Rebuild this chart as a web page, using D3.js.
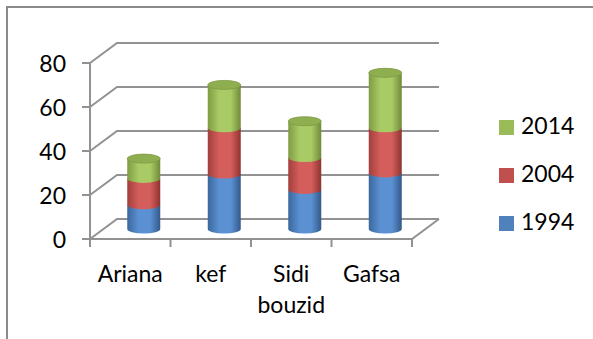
<!DOCTYPE html>
<html>
<head>
<meta charset="utf-8">
<script src="https://cdn.jsdelivr.net/npm/d3@7"></script>
<style>
  body { margin: 0; background: #fff; }
  text { font-family: Lato, "Open Sans", sans-serif; fill: #000; }
</style>
</head>
<body>
<div id="chart"></div>
<script>
// values
const categories = ["Ariana", "kef", "Sidi bouzid", "Gafsa"];
const years = ["1994", "2004", "2014"];
const v1994 = [11, 25, 18, 25.5];
const v2004 = [12, 21, 14.5, 20.5];
const v2014 = [9, 19.5, 16.5, 25];
const yTicks = [0, 20, 40, 60, 80];

const seriesColors = {
    "1994": ["#3b679c", "#5b91d3", "#33598a"],
    "2004": ["#a23f3c", "#d45e5b", "#8f3331"],
    "2014": ["#7f9c42", "#a9cb66", "#6f8a38"]
};
const legendColors = {"1994": "#4F81BD", "2004": "#C0504D", "2014": "#9BBB59"};

let W = 593, H = 339;
let fontSize = "23px";
let svg = d3.select("#chart").append("svg")
    .attr("width", W)
    .attr("height", H);

// outer frame (runs off the right and bottom of the picture)
svg.append("rect")
    .attr("x", 7).attr("y", 7)
    .attr("width", W).attr("height", H)
    .attr("fill", "none")
    .attr("stroke", "#8a8a8a")
    .attr("stroke-width", 2);

let x = d3.scaleBand().domain(categories).range([90, 412]).padding(0);
let y = d3.scaleLinear().domain([0, 80]).range([239, 63]);

// depth of the 3d box
let dx = 27, dy = -20;
let gridColor = "#929292";

let grid = svg.append("g");
yTicks.forEach(function(t) {
    grid.append("path")
        .attr("d", `M${x.range()[0]},${y(t)} L${x.range()[0] + dx},${y(t) + dy} L${x.range()[1] + dx},${y(t) + dy}`)
        .attr("fill", "none")
        .attr("stroke", gridColor)
        .attr("stroke-width", 2);
});
// floor
grid.append("path")
    .attr("d", `M${x.range()[0]},${y(0)} L${x.range()[1]},${y(0)} L${x.range()[1] + dx},${y(0) + dy}`)
    .attr("fill", "none")
    .attr("stroke", gridColor)
    .attr("stroke-width", 2);

// value axis
grid.append("line")
    .attr("x1", 90).attr("x2", 90)
    .attr("y1", y(80)).attr("y2", y(0))
    .attr("stroke", gridColor).attr("stroke-width", 2);
grid.selectAll(".ytick")
    .data(yTicks)
    .enter().append("line")
    .attr("x1", 82).attr("x2", 90)
    .attr("y1", d => y(d)).attr("y2", d => y(d))
    .attr("stroke", gridColor).attr("stroke-width", 2);
svg.selectAll(".ylabel")
    .data(yTicks)
    .enter().append("text")
    .attr("x", 66)
    .attr("y", d => y(d) + 3)
    .attr("text-anchor", "end")
    .attr("dominant-baseline", "middle")
    .style("font-size", fontSize)
    .text(d => d);

// category ticks
let catEdges = categories.map(c => x(c)).concat([x.range()[1]]);
grid.selectAll(".xtick")
    .data(catEdges)
    .enter().append("line")
    .attr("x1", d => d).attr("x2", d => d)
    .attr("y1", y(0)).attr("y2", y(0) + 8)
    .attr("stroke", gridColor).attr("stroke-width", 2);

// category labels, "Sidi bouzid" wraps
categories.forEach(function(c) {
    let words = c.split(" ");
    let t = svg.append("text")
        .attr("x", x(c) + x.bandwidth() / 2)
        .attr("y", 282)
        .attr("text-anchor", "middle")
        .style("font-size", fontSize);
    words.forEach(function(w, i) {
        t.append("tspan")
            .attr("x", x(c) + x.bandwidth() / 2)
            .attr("dy", i == 0 ? 0 : 31)
            .text(w);
    });
});

// gradients for the cylinders
let defs = svg.append("defs");
years.forEach(function(yr) {
    let g = defs.append("linearGradient")
        .attr("id", "grad" + yr)
        .attr("x1", "0%").attr("x2", "100%")
        .attr("y1", "0%").attr("y2", "0%");
    let c = seriesColors[yr];
    g.append("stop").attr("offset", "0%").attr("stop-color", c[0]);
    g.append("stop").attr("offset", "35%").attr("stop-color", c[1]);
    g.append("stop").attr("offset", "70%").attr("stop-color", c[1]);
    g.append("stop").attr("offset", "100%").attr("stop-color", c[2]);
});

let data = categories.map(function(c, i) {
    return {cat: c, "1994": v1994[i], "2004": v2004[i], "2014": v2014[i]};
});
let stack = d3.stack().keys(years)(data);

let rx = 16.5, ry = 4.5;
let cylG = svg.append("g");
data.forEach(function(d, i) {
    let cx = x(d.cat) + x.bandwidth() / 2 + dx / 2;
    stack.forEach(function(s) {
        let yb = y(s[i][0]) + dy / 2;
        let yt = y(s[i][1]) + dy / 2;
        cylG.append("path")
            .attr("d", `M${cx - rx},${yt} L${cx - rx},${yb} A${rx},${ry} 0 0 0 ${cx + rx},${yb} L${cx + rx},${yt} Z`)
            .attr("fill", "url(#grad" + s.key + ")");
    });
    let top = y(stack[stack.length - 1][i][1]) + dy / 2;
    cylG.append("ellipse")
        .attr("cx", cx).attr("cy", top)
        .attr("rx", rx).attr("ry", ry)
        .attr("fill", "#8fae50")
        .attr("stroke", "#7d9a45")
        .attr("stroke-width", 0.8);
});

// legend
let legendYears = years.slice().reverse();
let legend = svg.append("g");
legendYears.forEach(function(yr, i) {
    legend.append("rect")
        .attr("x", 499).attr("y", 120 + i * 48)
        .attr("width", 15).attr("height", 15)
        .attr("fill", legendColors[yr]);
    legend.append("text")
        .attr("x", 521).attr("y", 128 + i * 48)
        .attr("dominant-baseline", "middle")
        .style("font-size", fontSize)
        .text(yr);
});
</script>
</body>
</html>
